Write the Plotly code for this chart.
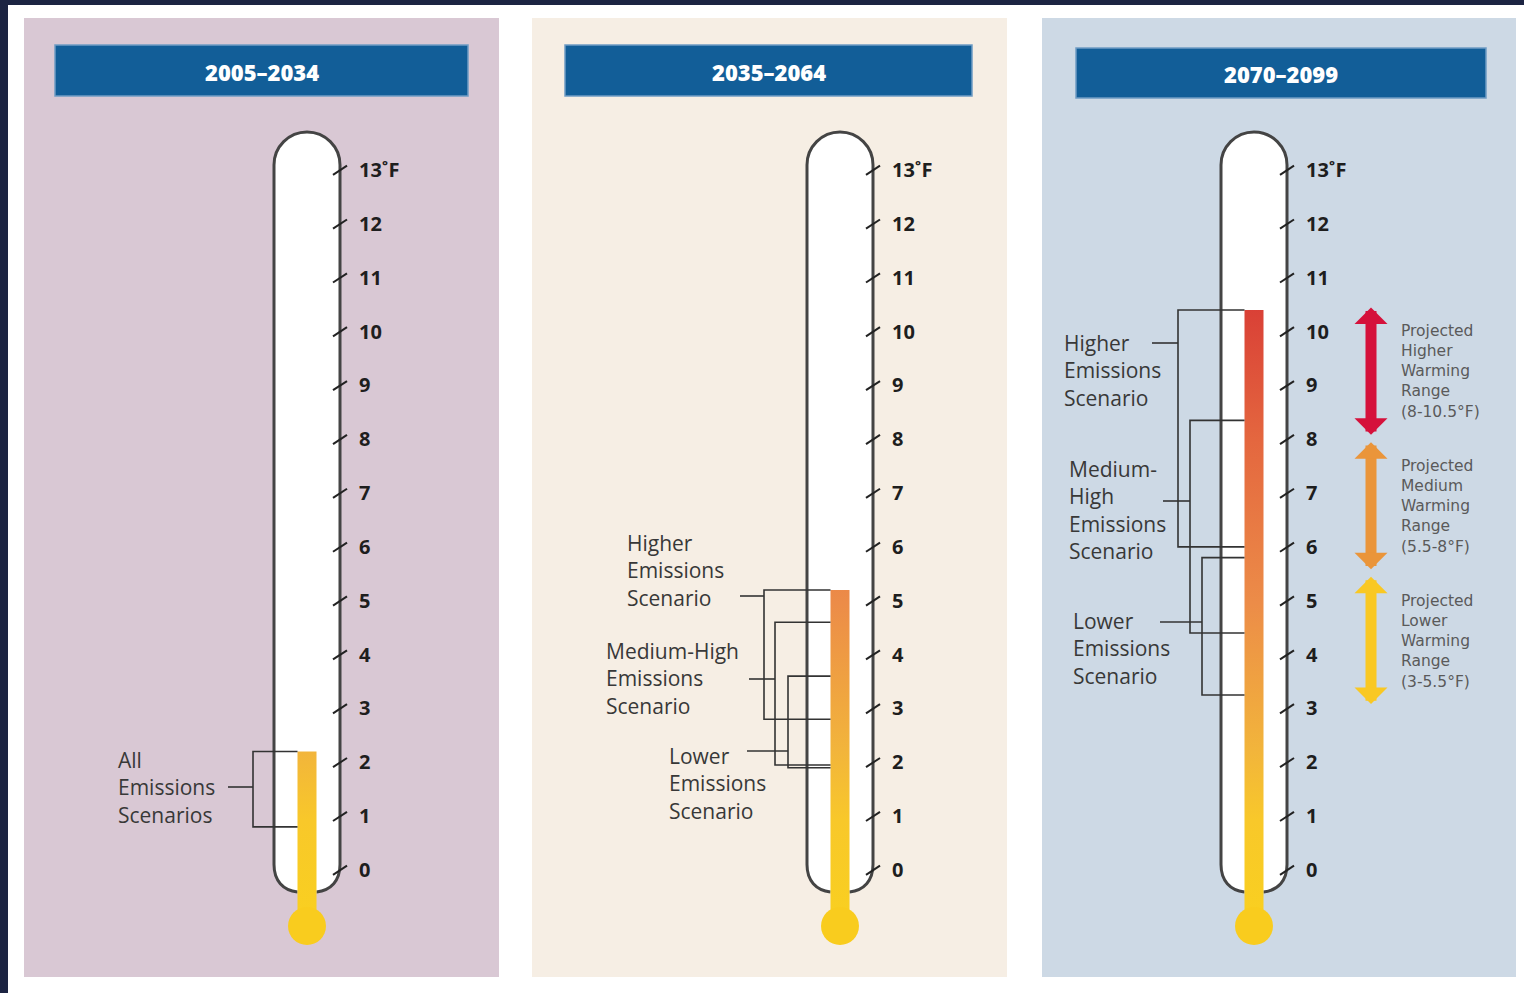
import plotly.graph_objects as go

# ---------------- data ----------------
periods = ["2005–2034", "2035–2064", "2070–2099"]
bar_tops = [2.2, 5.2, 10.4]                       # warming reached (°F)
tick_vals = list(range(14))
tick_text = [str(v) for v in range(13)] + ["13˚F"]

p1_names = ["All<br>Emissions<br>Scenarios"]
p1_low = [0.8]
p1_high = [2.2]

p2_names = ["Higher<br>Emissions<br>Scenario",
            "Medium-High<br>Emissions<br>Scenario",
            "Lower<br>Emissions<br>Scenario"]
p2_low = [2.8, 1.95, 1.9]
p2_high = [5.2, 4.6, 3.6]

p3_names = ["Higher<br>Emissions<br>Scenario",
            "Medium-<br>High<br>Emissions<br>Scenario",
            "Lower<br>Emissions<br>Scenario"]
p3_low = [6.0, 4.4, 3.25]
p3_high = [10.4, 8.35, 5.8]

range_names = ["Projected<br>Higher<br>Warming<br>Range<br>(8-10.5°F)",
               "Projected<br>Medium<br>Warming<br>Range<br>(5.5-8°F)",
               "Projected<br>Lower<br>Warming<br>Range<br>(3-5.5°F)"]
range_low = [8.0, 5.5, 3.0]
range_high = [10.5, 8.0, 5.5]

# ---------------- layout / style ----------------
W, H = 1524, 993
PX = 53.85          # pixels per °F
ZERO_PIX = 870      # pixel row of 0 °F
Y_RANGE = [(ZERO_PIX - H) / PX, ZERO_PIX / PX]


def yp(pix):  # paper fraction from pixel row (for decorations)
    return 1 - pix / H


def v_of(pix):  # axis value from pixel row (decoration geometry only)
    return (ZERO_PIX - pix) / PX


panels = [
    dict(x0=24, x1=499, tx0=55, tx1=468, ty0=45, ty1=96, cx=307, bg="#d9c8d4",
         vx=[253], lx0=[228], lab_x=[116], lab_y=[v_of(787)], lead_y=[v_of(787)],
         names=p1_names, low=p1_low, high=p1_high),
    dict(x0=532, x1=1007, tx0=565, tx1=972, ty0=45, ty1=96, cx=840, bg="#f6eee4",
         vx=[764, 775, 788], lx0=[740, 749, 747], lab_x=[625, 604, 667],
         lab_y=[v_of(570), v_of(678), v_of(783)],
         lead_y=[v_of(596), v_of(679), v_of(751)],
         names=p2_names, low=p2_low, high=p2_high),
    dict(x0=1042, x1=1516, tx0=1076, tx1=1486, ty0=48, ty1=98, cx=1254, bg="#cdd9e5",
         vx=[1178, 1190, 1202], lx0=[1152, 1163, 1160], lab_x=[1062, 1067, 1071],
         lab_y=[v_of(370), v_of(510), v_of(648)],
         lead_y=[v_of(343), v_of(501), v_of(622)],
         names=p3_names, low=p3_low, high=p3_high),
]
HW = 33        # tube half width (px)
BW = 9.5       # bar half width (px)
BULB_R = 19
BULB_V = v_of(926)
TOP_V = v_of(132)
NECK_V = v_of(892)
LEG_X = 1371
LEG_TX = 1399
arrow_colors = ["#d5113b", "#ea953a", "#f9c823"]
grad_scale = [[0.0, "#f9d01f"], [0.17, "#f8c82a"], [0.28, "#f2b53b"],
              [0.52, "#ec8c48"], [0.78, "#e4673f"], [1.0, "#d93f36"]]
FONT = "Open Sans"
TEXT_C = "#383838"
LINE_C = "#333333"

fig = go.Figure()
shapes = []
annotations = []

# dark frame (top / left)
shapes.append(dict(type="rect", xref="paper", yref="paper", x0=0, x1=1, y0=yp(5), y1=1,
                   fillcolor="#1c2442", line_width=0, layer="below"))
shapes.append(dict(type="rect", xref="paper", yref="paper", x0=0, x1=8 / W, y0=0, y1=1,
                   fillcolor="#1c2442", line_width=0, layer="below"))

yaxis_ids = ["y", "y2", "y3"]
for i, p in enumerate(panels):
    cx = p["cx"]
    # panel background
    shapes.append(dict(type="rect", xref="x", yref="paper", x0=p["x0"], x1=p["x1"],
                       y0=yp(977), y1=yp(18), fillcolor=p["bg"], line_width=0, layer="below"))
    # title bar
    shapes.append(dict(type="rect", xref="x", yref="paper", x0=p["tx0"], x1=p["tx1"],
                       y0=yp(p["ty1"]), y1=yp(p["ty0"]), fillcolor="#125e98",
                       line=dict(color="#6f9cc4", width=1.5), layer="below"))
    annotations.append(dict(x=(p["tx0"] + p["tx1"]) / 2, y=yp((p["ty0"] + p["ty1"]) / 2 + 1),
                            xref="x", yref="paper", text=periods[i], showarrow=False,
                            xanchor="center", yanchor="middle",
                            font=dict(family=FONT, size=22, color="white", weight=800)))
    # thermometer tube
    ry = HW / PX
    arc_c = TOP_V - ry
    k = 0.5523
    path = (f"M {cx - BW},{NECK_V} "
            f"C {cx - 24},{NECK_V + 0.03} {cx - HW},{-0.2} {cx - HW},{0.1} "
            f"L {cx - HW},{arc_c} "
            f"C {cx - HW},{arc_c + k * ry} {cx - k * HW},{TOP_V} {cx},{TOP_V} "
            f"C {cx + k * HW},{TOP_V} {cx + HW},{arc_c + k * ry} {cx + HW},{arc_c} "
            f"L {cx + HW},{0.1} "
            f"C {cx + HW},{-0.2} {cx + 24},{NECK_V + 0.03} {cx + BW},{NECK_V}")
    shapes.append(dict(type="path", xref="x", yref="y", path=path, fillcolor="white",
                       line=dict(color="#444444", width=3), layer="below"))
    # mercury bar with vertical gradient
    fig.add_trace(go.Scatter(
        x=[cx - BW, cx + BW, cx + BW, cx - BW, cx - BW],
        y=[BULB_V, BULB_V, bar_tops[i], bar_tops[i], BULB_V],
        mode="lines", line=dict(width=0), fill="toself",
        fillgradient=dict(type="vertical", colorscale=grad_scale, start=BULB_V, stop=10.5),
        hoverinfo="skip", showlegend=False))
    # bulb
    shapes.append(dict(type="circle", xref="x", yref="y", x0=cx - BULB_R, x1=cx + BULB_R,
                       y0=BULB_V - BULB_R / PX, y1=BULB_V + BULB_R / PX,
                       fillcolor="#f9cc1e", line_width=0, layer="above"))
    # slanted tick marks on the right wall
    tx, ty = [], []
    for v in tick_vals:
        tx += [cx + HW - 7, cx + HW + 7, None]
        ty += [v - 0.09, v + 0.08, None]
    fig.add_trace(go.Scatter(x=tx, y=ty, mode="lines", yaxis=yaxis_ids[i],
                             line=dict(color="#222222", width=2),
                             hoverinfo="skip", showlegend=False))
    # scenario brackets
    bx, by = [], []
    for j in range(len(p["names"])):
        vx = p["vx"][j]
        bx += [cx - BW, vx, vx, cx - BW, None, p["lx0"][j], vx, None]
        by += [p["high"][j], p["high"][j], p["low"][j], p["low"][j], None,
               p["lead_y"][j], p["lead_y"][j], None]
        annotations.append(dict(x=p["lab_x"][j], y=p["lab_y"][j], xref="x", yref="y",
                                text=p["names"][j], showarrow=False, xanchor="left",
                                yanchor="middle", align="left",
                                font=dict(family=FONT, size=21, color=TEXT_C)))
    fig.add_trace(go.Scatter(x=bx, y=by, mode="lines",
                             line=dict(color=LINE_C, width=1.6),
                             hoverinfo="skip", showlegend=False))

# projected warming range arrows (panel 3)
for j in range(3):
    annotations.append(dict(x=LEG_X, y=range_high[j], ax=LEG_X, ay=range_low[j],
                            xref="x", yref="y", axref="x", ayref="y", text="",
                            showarrow=True, arrowside="end+start", arrowhead=1,
                            arrowsize=0.5, arrowwidth=11, arrowcolor=arrow_colors[j],
                            standoff=3, startstandoff=3))
    annotations.append(dict(x=LEG_TX, y=(range_low[j] + range_high[j]) / 2, xref="x", yref="y",
                            text=range_names[j], showarrow=False, xanchor="left",
                            yanchor="middle", align="left",
                            font=dict(family="DejaVu Sans", size=15.5, color="#5a5a5a")))

axis_common = dict(range=Y_RANGE, domain=[0, 1], showgrid=False, zeroline=False,
                   showline=False, tickvals=tick_vals, ticktext=tick_text, ticks="",
                   side="right", anchor="free", ticklabelstandoff=18, fixedrange=True,
                   tickfont=dict(family=FONT, size=20, color="#1e1e1e", weight=700))
fig.update_layout(
    width=W, height=H, autosize=False,
    margin=dict(l=0, r=0, t=0, b=0, pad=0),
    paper_bgcolor="white", plot_bgcolor="rgba(0,0,0,0)",
    xaxis=dict(range=[0, W], domain=[0, 1], visible=False, fixedrange=True),
    yaxis=dict(position=(panels[0]["cx"] + HW) / W, **axis_common),
    yaxis2=dict(position=(panels[1]["cx"] + HW) / W, overlaying="y", **axis_common),
    yaxis3=dict(position=(panels[2]["cx"] + HW) / W, overlaying="y", **axis_common),
    shapes=shapes, annotations=annotations, showlegend=False,
)

fig.write_html("out.html", config={"displayModeBar": False, "staticPlot": True},
               post_script="document.body.style.margin='0';")
